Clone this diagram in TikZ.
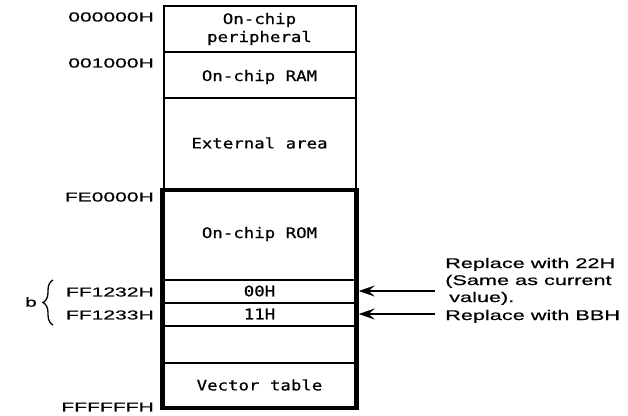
\documentclass[tikz,border=0pt]{standalone}
\usepackage{fontspec}
\usetikzlibrary{arrows.meta,decorations.pathreplacing}
\newfontfamily\addrfont[FakeStretch=1.62,FakeBold=0.6]{Liberation Sans}
\newfontfamily\notefont[FakeStretch=1.55,FakeBold=0.5]{Liberation Sans}
\newfontfamily\memfont[FakeStretch=1.2,FakeBold=0.6]{DejaVu Sans Mono}
\begin{document}
\begin{tikzpicture}[x=1pt,y=-1pt,
  addr/.style={font=\addrfont\fontsize{13}{15}\selectfont, anchor=east, inner sep=0pt},
  note/.style={font=\notefont\fontsize{14}{17}\selectfont, anchor=base west, inner sep=0pt},
  mem/.style={font=\memfont\fontsize{14.5}{18}\selectfont, align=center, inner sep=0pt, minimum width=193pt},
  thinline/.style={line width=2pt},
  thickline/.style={line width=4.5pt},
  arr/.style={-{Stealth[length=16pt,width=11pt,inset=6pt]}, line width=1.6pt}]
\useasboundingbox (0,0) rectangle (628,415);
% upper (thin) part of the map
\draw[thinline] (164,190) -- (164,6) -- (356,6) -- (356,190);
\draw[thinline] (164,52) -- (356,52);
\draw[thinline] (164,98) -- (356,98);
% ROM part
\draw[thinline] (163,279.5) -- (356,279.5);
\draw[thinline] (163,302.7) -- (356,302.7);
\draw[thinline] (163,326) -- (356,326);
\draw[thinline] (163,363) -- (356,363);
\draw[thickline] (162.5,190) rectangle (356.5,408);
% region labels
\node[mem] (per) at (259.5,29) {On-chip\\peripheral};
\node[mem] (ram) at (259.5,77) {On-chip RAM};
\node[mem] (ext) at (259.5,143) {External area};
\node[mem] (rom) at (259.5,234) {On-chip ROM};
\node[mem, minimum height=23pt] (r00) at (259.5,291) {00H};
\node[mem, minimum height=23pt] (r11) at (259.5,314) {11H};
\node[mem] (vec) at (259.5,385) {Vector table};
% addresses
\node[addr] (a0) at (154,17) {000000H};
\node[addr] (a1) at (154,63) {001000H};
\node[addr] (a2) at (154,197) {FE0000H};
\node[addr] (a3) at (154,292) {FF1232H};
\node[addr] (a4) at (154,315) {FF1233H};
\node[addr] (a5) at (154,407) {FFFFFFH};
% brace
\coordinate (bb) at (53,325);
\coordinate (bt) at (53,280);
\draw[line width=1.3pt, decorate, decoration={brace, amplitude=10pt}] (bb) -- (bt);
\node[addr, anchor=center] (b) at (31,302) {b};
% notes
\node[note] (n1) at (445,268) {Replace with 22H};
\node[note] (n2) at (445,285) {(Same as current};
\node[note] (n3) at (449,302) {value).};
\node[note] (n4) at (445,320) {Replace with BBH};
\coordinate (s1) at (435,291);
\coordinate (s2) at (435,314);
\draw[arr] (s1) -- ([xshift=2.5pt]r00.east);
\draw[arr] (s2) -- ([xshift=2.5pt]r11.east);
\end{tikzpicture}
\end{document}
